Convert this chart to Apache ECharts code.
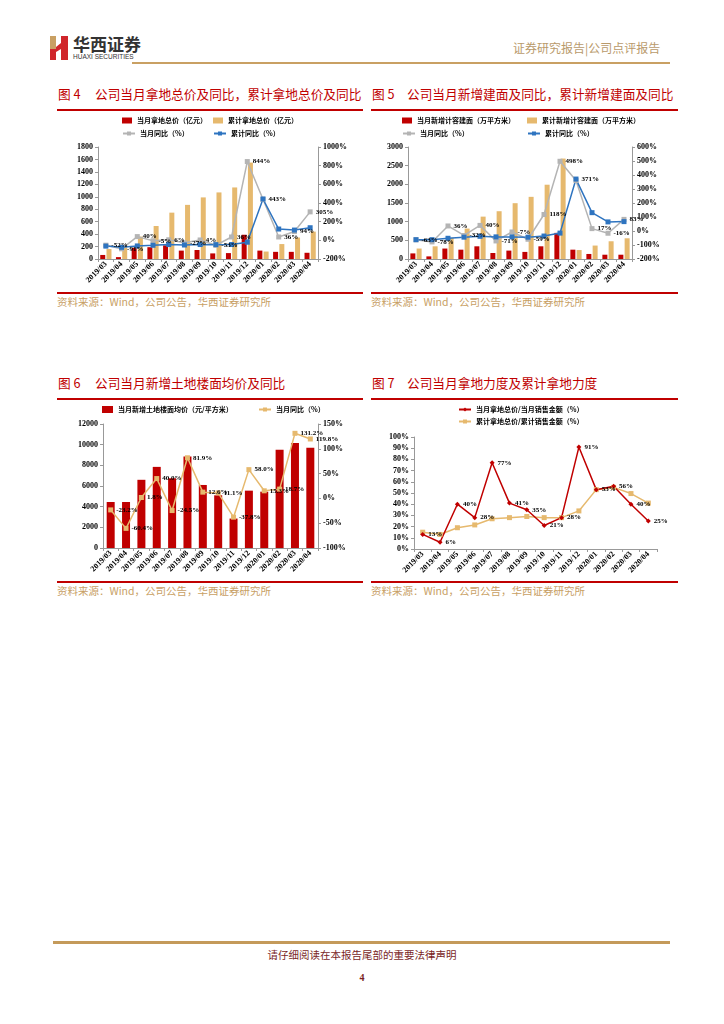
<!DOCTYPE html>
<html><head><meta charset="utf-8">
<script src="https://cdn.jsdelivr.net/npm/echarts@6/dist/echarts.min.js"></script>
<style>
body{margin:0;width:724px;height:1024px;background:#fff;position:relative;overflow:hidden;font-family:"Noto Sans CJK SC",sans-serif;}
.abs{position:absolute;white-space:nowrap;}
.ttl{color:#c00000;font-size:12.7px;line-height:14px;}
.rl{position:absolute;height:2px;background:#c00000;}
.src{color:#c8a064;font-size:10.5px;line-height:12px;}
.ch{position:absolute;width:330px;height:185px;}
</style></head><body>
<!-- header -->
<svg class="abs" style="left:49px;top:35px" width="22" height="26" viewBox="0 0 22 26">
  <polygon points="1,1 7,1 7,14 1,14" fill="#c9a063"/>
  <polygon points="1,14 7,14 7,25 1,25" fill="#d0262b"/>
  <polygon points="7,12 12,8 12,14 7,17" fill="#d0262b"/>
  <polygon points="12,1 19,1 19,25 12,25" fill="#d0262b"/>
</svg>
<div class="abs" style="left:73px;top:34px;font-size:17px;font-weight:bold;color:#333;line-height:19px;">华西证券</div>
<div class="abs" style="left:73px;top:53px;font-size:6.5px;color:#333;line-height:8px;font-family:'Liberation Sans',sans-serif;">HUAXI SECURITIES</div>
<div class="abs" style="left:513px;top:41px;font-size:12px;color:#b99a6b;line-height:14px;">证券研究报告|公司点评报告</div>
<div class="abs" style="left:132px;top:62px;width:538px;height:2px;background:#c9a063;"></div>

<!-- titles -->
<div class="abs ttl" style="left:58px;top:87px;">图 4</div>
<div class="abs ttl" style="left:95px;top:87px;">公司当月拿地总价及同比，累计拿地总价及同比</div>
<div class="rl" style="left:57px;top:109px;width:306px;"></div>
<div class="abs ttl" style="left:372px;top:87px;">图 5</div>
<div class="abs ttl" style="left:407px;top:87px;">公司当月新增建面及同比，累计新增建面及同比</div>
<div class="rl" style="left:371px;top:109px;width:307px;"></div>

<div class="rl" style="left:57px;top:292px;width:306px;"></div>
<div class="abs src" style="left:57px;top:296px;">资料来源：Wind，公司公告，华西证券研究所</div>
<div class="rl" style="left:371px;top:292px;width:307px;"></div>
<div class="abs src" style="left:371px;top:296px;">资料来源：Wind，公司公告，华西证券研究所</div>

<div class="abs ttl" style="left:58px;top:376px;">图 6</div>
<div class="abs ttl" style="left:95px;top:376px;">公司当月新增土地楼面均价及同比</div>
<div class="rl" style="left:57px;top:398px;width:306px;"></div>
<div class="abs ttl" style="left:372px;top:376px;">图 7</div>
<div class="abs ttl" style="left:407px;top:376px;">公司当月拿地力度及累计拿地力度</div>
<div class="rl" style="left:371px;top:398px;width:307px;"></div>

<div class="rl" style="left:57px;top:581px;width:306px;"></div>
<div class="abs src" style="left:57px;top:585px;">资料来源：Wind，公司公告，华西证券研究所</div>
<div class="rl" style="left:371px;top:581px;width:307px;"></div>
<div class="abs src" style="left:371px;top:585px;">资料来源：Wind，公司公告，华西证券研究所</div>

<!-- footer -->
<div class="abs" style="left:53px;top:941px;width:617px;height:3px;background:#c49a5a;"></div>
<div class="abs" style="left:0;width:724px;top:948px;text-align:center;font-size:10.5px;color:#7a1f1f;line-height:13px;">请仔细阅读在本报告尾部的重要法律声明</div>
<div class="abs" style="left:0;width:724px;top:972px;text-align:center;font-size:10px;font-weight:bold;color:#7a1f1f;line-height:12px;font-family:'Liberation Serif',serif;">4</div>

<div id="c4" class="ch" style="left:40px;top:112px;"></div>
<div id="c5" class="ch" style="left:365px;top:112px;"></div>
<div id="c6" class="ch" style="left:40px;top:400px;"></div>
<div id="c7" class="ch" style="left:365px;top:400px;"></div>

<script>
// ---------- data ----------
const months = ['2019/03','2019/04','2019/05','2019/06','2019/07','2019/08','2019/09','2019/10','2019/11','2019/12','2020/01','2020/02','2020/03','2020/04'];

// Fig 4: land acquisition total price (亿元) and YoY (%)
const landMonth = [65, 30, 180, 190, 220, 135, 145, 90, 95, 390, 135, 115, 115, 100];
const landCum   = [160, 190, 360, 530, 745, 870, 990, 1070, 1150, 1550, 120, 240, 345, 440];
const landMonthYoY = [-52, -91, 40, -5, 6, -27, 4, -53, 36, 844, 440, 36, 94, 305];
const landCumYoY   = [-62, -75, -60, -53, -45, -50, -45, -46, -45, -20, 443, 121, 110, 135];
const landMonthYoYShow = [1,1,1,1,1,1,1,1,1,1,0,1,1,1];
const landCumYoYShow   = [0,0,0,0,0,0,0,0,0,0,1,0,0,0];

// Fig 5: new GFA (万平方米) and YoY (%)
const gfaMonth = [150, 70, 280, 250, 340, 160, 225, 190, 340, 700, 250, 135, 115, 115];
const gfaCum   = [280, 340, 565, 815, 1135, 1280, 1495, 1665, 1990, 2690, 240, 360, 475, 555];
const gfaMonthYoY = [-63, -78, 36, -32, 40, -71, -7, -59, 118, 498, 360, 17, -16, 83];
const gfaCumYoY   = [-62, -62, -52, -44, -38, -42, -42, -44, -36, -15, 371, 131, 65, 67];
const gfaMonthYoYShow = [1,1,1,1,1,1,1,1,1,1,0,1,1,1];
const gfaCumYoYShow   = [0,0,0,0,0,0,0,0,0,0,1,0,0,0];

// Fig 6: floor price (元/平方米) and YoY (%)
const floorPrice = [4450, 4450, 6600, 7850, 6750, 8850, 6100, 5100, 2850, 5550, 5450, 9500, 10150, 9700];
const floorYoY   = [-23.2, -60.4, 1.8, 40.0, -24.5, 81.9, 12.6, 11.1, -37.8, 58.0, 15.3, 18.7, 131.2, 119.8];

// Fig 7: land acquisition intensity (%)
const intensityMonth = [13, 6, 40, 28, 77, 41, 35, 21, 28, 91, 53, 56, 40, 25];
const intensityCum   = [15, 13, 19, 21.5, 27, 28, 29, 28, 28, 34, 53, 55, 49.5, 41];

// ---------- styles ----------
const RED = '#c00000', TAN = '#e6b96e', GREY = '#b4b4b4', BLUE = '#2e74c0';
const numFont = {fontFamily:'Liberation Serif', fontWeight:'bold', fontSize:8, color:'#000'};
const lblFont = {fontFamily:'Liberation Serif', fontWeight:'bold', fontSize:7, color:'#000'};
const legFont = {fontFamily:'Noto Sans CJK SC', fontWeight:'bold', fontSize:7, color:'#000'};
const axLine = {show:true, lineStyle:{color:'#999', width:1}};
const axTick = {show:true, length:3, lineStyle:{color:'#999'}};

function xAxis(){
  return {type:'category', data:months, axisLine:axLine,
    axisTick:{show:true, interval:0, length:3, lineStyle:{color:'#999'}},
    axisLabel:Object.assign({interval:0, rotate:45, margin:4}, numFont)};
}
function yAxis(min,max,interval,pct,pos){
  return {type:'value', min, max, interval, position:pos||'left',
    axisLine:axLine, axisTick:axTick, splitLine:{show:false},
    axisLabel:Object.assign({margin:5, formatter: v => String(v) + (pct ? '%' : '')}, numFont)};
}
function legend(name, left, top, icon, w, h){
  return {data:[name], left, top, padding:0, itemWidth:w||10, itemHeight:h||6, itemGap:0,
    icon: icon, textStyle:legFont, selectedMode:false};
}
function lineSeries(name, data, color, yIdx, shows, opts){
  opts = opts || {};
  return {type:'line', name, data, yAxisIndex:yIdx, symbol:opts.symbol||'rect', symbolSize:opts.size||5,
    lineStyle:{color, width:1.5}, itemStyle:{color},
    label:Object.assign({show:!!shows, position:'right', distance:3,
      formatter: p => (shows && !shows[p.dataIndex]) ? '' : (opts.dec ? p.value.toFixed(opts.dec) : p.value) + '%'}, lblFont),
    z:5, animation:false};
}
function barSeries(name, data, color, w){
  return {type:'bar', name, data, barWidth:w||5, barGap:'25%', itemStyle:{color}, animation:false};
}

// ---------- Fig 4 ----------
echarts.init(document.getElementById('c4')).setOption({
  animation:false,
  grid:{left:58, top:35, width:220, height:112},
  legend:[
    legend('当月拿地总价（亿元）', 82, 5, 'rect', 10, 6),
    legend('累计拿地总价（亿元）', 173, 5, 'rect', 10, 6),
    legend('当月同比（%）', 82, 18, null, 12, 5),
    legend('累计同比（%）', 173, 18, null, 12, 5)
  ],
  xAxis:xAxis(),
  yAxis:[yAxis(0,1800,200,false,'left'), yAxis(-200,1000,200,true,'right')],
  series:[
    barSeries('当月拿地总价（亿元）', landMonth, RED),
    barSeries('累计拿地总价（亿元）', landCum, TAN),
    lineSeries('当月同比（%）', landMonthYoY, GREY, 1, landMonthYoYShow),
    lineSeries('累计同比（%）', landCumYoY, BLUE, 1, landCumYoYShow)
  ]
});

// ---------- Fig 5 ----------
echarts.init(document.getElementById('c5')).setOption({
  animation:false,
  grid:{left:43, top:35, width:224, height:112},
  legend:[
    legend('当月新增计容建面（万平方米）', 37, 5, 'rect', 10, 6),
    legend('累计新增计容建面（万平方米）', 162, 5, 'rect', 10, 6),
    legend('当月同比（%）', 37, 18, null, 12, 5),
    legend('累计同比（%）', 162, 18, null, 12, 5)
  ],
  xAxis:xAxis(),
  yAxis:[yAxis(0,3000,500,false,'left'), yAxis(-200,600,100,true,'right')],
  series:[
    barSeries('当月新增计容建面（万平方米）', gfaMonth, RED),
    barSeries('累计新增计容建面（万平方米）', gfaCum, TAN),
    lineSeries('当月同比（%）', gfaMonthYoY, GREY, 1, gfaMonthYoYShow),
    lineSeries('累计同比（%）', gfaCumYoY, BLUE, 1, gfaCumYoYShow)
  ]
});

// ---------- Fig 6 ----------
echarts.init(document.getElementById('c6')).setOption({
  animation:false,
  grid:{left:63, top:24, width:215, height:124},
  legend:[
    legend('当月新增土地楼面均价（元/平方米）', 62, 6, 'rect', 11, 7),
    legend('当月同比（%）', 218, 6, null, 12, 5)
  ],
  xAxis:xAxis(),
  yAxis:[yAxis(0,12000,2000,false,'left'), yAxis(-100,150,50,true,'right')],
  series:[
    barSeries('当月新增土地楼面均价（元/平方米）', floorPrice, RED, 8),
    lineSeries('当月同比（%）', floorYoY, TAN, 1, [1,1,1,1,1,1,1,1,1,1,1,1,1,1], {dec:1})
  ]
});

// ---------- Fig 7 ----------
echarts.init(document.getElementById('c7')).setOption({
  animation:false,
  grid:{left:49, top:37, width:243, height:112},
  legend:[
    legend('当月拿地总价/当月销售金额（%）', 93, 6, null, 12, 5),
    legend('累计拿地总价/累计销售金额（%）', 93, 18, null, 12, 5)
  ],
  xAxis:xAxis(),
  yAxis:[yAxis(0,100,10,true,'left')],
  series:[
    lineSeries('累计拿地总价/累计销售金额（%）', intensityCum, TAN, 0, null),
    lineSeries('当月拿地总价/当月销售金额（%）', intensityMonth, RED, 0, [1,1,1,1,1,1,1,1,1,1,1,1,1,1], {symbol:'diamond', size:5})
  ]
});
</script>
</body></html>
